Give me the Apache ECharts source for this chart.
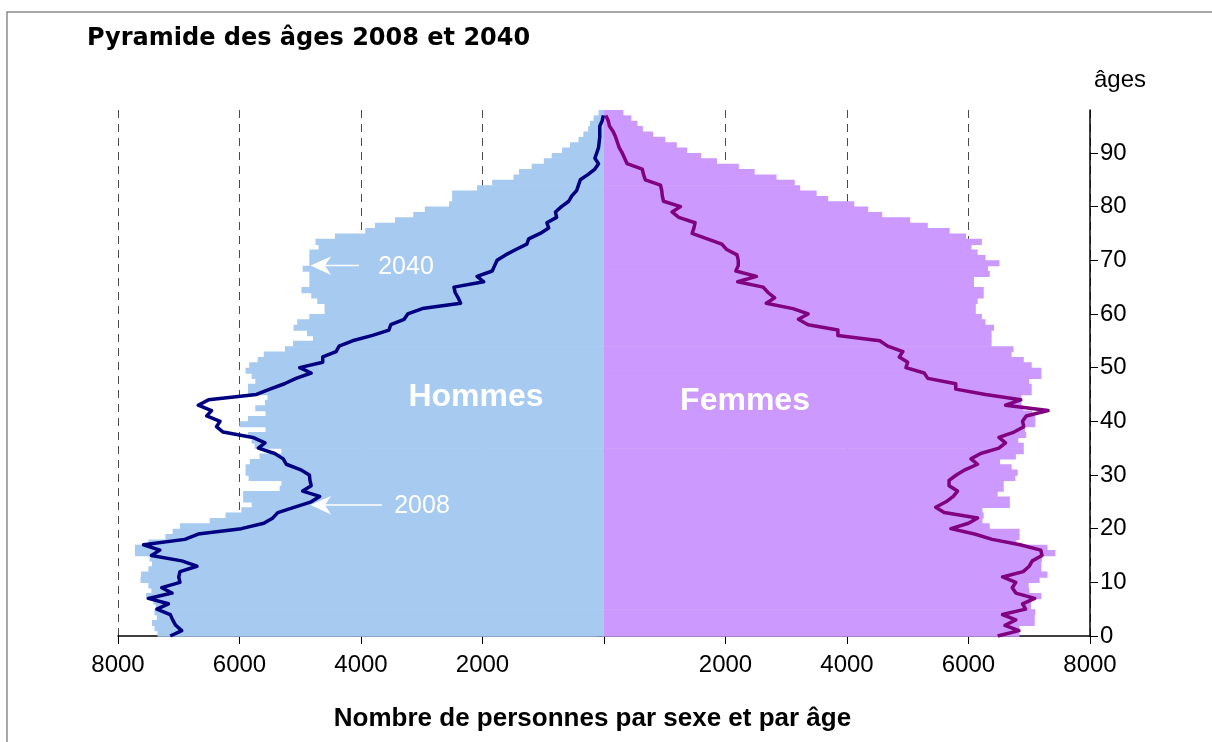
<!DOCTYPE html>
<html>
<head>
<meta charset="utf-8">
<script src="https://cdn.jsdelivr.net/npm/echarts@6/dist/echarts.min.js"></script>
<style>
html,body{margin:0;padding:0;background:#fff;}
#chart{width:1212px;height:742px;}
</style>
</head>
<body>
<div id="chart"></div>
<script>
// ----- Data (persons per single year of age, ages 0..97) -----
const ages = [];
for (let a = 0; a <= 97; a++) ages.push(a);

const ageTicks = [0, 10, 20, 30, 40, 50, 60, 70, 80, 90];

// Hommes 2040 (bars)
const men2040 = [
  7350, 7400, 7440, 7360, 7400, 7380, 7420, 7540, 7450, 7500,
  7630, 7620, 7500, 7440, 7480, 7720, 7720, 7500, 7220, 7100,
  6980, 6490, 6230, 5970, 5800, 5940, 5940, 5340, 5310, 5850,
  5900, 5900, 5830, 5670, 5310, 5750, 5800, 5860, 5570, 6000,
  5860, 5570, 5740, 5580, 5540, 5860, 5860, 5740, 5800, 5900,
  5840, 5700, 5600, 5250, 5120, 4790, 4890, 5110, 5050, 4850,
  4600, 4600, 4720, 4820, 4980, 4850, 4850, 4850, 4960, 4850,
  4850, 4850, 4700, 4750, 4430, 3930, 3770, 3440, 3140, 2950,
  2550, 2500, 2500, 2090, 1840, 1490, 1400, 1190, 990, 860,
  690, 560, 420, 340, 260, 230, 170, 90
];

// Femmes 2040 (bars)
const women2040 = [
  6840, 6840, 7090, 7090, 7100, 7030, 7030, 7200, 7000, 6990,
  7170, 7300, 7200, 7200, 7210, 7430, 7300, 6790, 6840, 6840,
  6350, 6230, 6250, 6230, 6680, 6680, 6480, 6580, 6580, 6770,
  6810, 6710, 6520, 6780, 6910, 6910, 6820, 6950, 6930, 7100,
  7100, 7050, 6900, 6870, 6870, 7040, 7040, 7000, 7200, 7200,
  7040, 6910, 6710, 6740, 6380, 6380, 6380, 6420, 6280, 6220,
  6120, 6120, 6150, 6250, 6250, 6090, 6090, 6350, 6320, 6510,
  6280, 6150, 6050, 6220, 5960, 5690, 5330, 5040, 4580, 4350,
  4120, 3690, 3500, 3230, 3140, 2840, 2480, 2220, 1860, 1600,
  1370, 1200, 1010, 810, 640, 550, 450, 320
];

// Hommes 2008 (line)
const men2008 = [
  7140, 6950, 7050, 7100, 7140, 7360, 7170, 7500, 7110, 7280,
  6980, 7000, 6980, 6700, 6950, 7450, 7310, 7580, 6900, 6680,
  5970, 5600, 5450, 5370, 5090, 4820, 4680, 4960, 4820, 4840,
  4850, 5000, 5230, 5280, 5420, 5690, 5580, 5780, 6270, 6380,
  6320, 6540, 6460, 6680, 6510, 5720, 5500, 5260, 5070, 4820,
  5010, 4630, 4630, 4410, 4360, 4140, 3810, 3540, 3510, 3290,
  3230, 2990, 2360, 2400, 2450, 2470, 1980, 2090, 1840, 1800,
  1760, 1620, 1450, 1270, 1240, 1050, 910, 940, 780, 800,
  700, 580, 530, 450, 420, 390, 260, 150, 90, 150,
  120, 90, 80, 70, 70, 70, 30, 10
];

// Femmes 2008 (line)
const women2008 = [
  6480, 6830, 6600, 6780, 6560, 6940, 6890, 7090, 6780, 6720,
  6780, 6560, 6900, 7000, 7050, 7210, 7190, 6850, 6390, 6100,
  5710, 6000, 6150, 5600, 5460, 5630, 5750, 5820, 5680, 5680,
  5800, 5950, 6150, 6040, 6200, 6500, 6610, 6500, 6750, 6910,
  6890, 6950, 7310, 6610, 6860, 6280, 5790, 5790, 5330, 5270,
  4970, 5000, 4860, 4920, 4670, 4540, 3850, 3850, 3360, 3200,
  3360, 3110, 2670, 2810, 2700, 2620, 2200, 2510, 2170, 2210,
  2210, 2190, 2020, 1940, 1700, 1450, 1480, 1500, 1230, 1120,
  1260, 980, 960, 950, 930, 680, 650, 630, 380, 340,
  300, 250, 220, 190, 150, 90, 70, 30
];

// ----- Chart -----
const chart = echarts.init(document.getElementById('chart'), null, {renderer: 'canvas'});
const FONT = '"Liberation Sans", Arial, sans-serif';
const MEN_BAR = '#A6CAF0';
const WOMEN_BAR = '#CC99FF';

// One horizontal bar per age: from 0 to value, spanning [age, age+1] on the age axis
function ageBar(color) {
  return function (params, api) {
    const age = api.value(0);
    const v = api.value(1);
    const p0 = api.coord([0, age]);
    const p1 = api.coord([v, age + 1]);
    return {
      type: 'rect',
      shape: {
        x: Math.min(p0[0], p1[0]),
        y: p1[1],
        width: Math.abs(p1[0] - p0[0]),
        height: (p0[1] - p1[1]) + 0.7
      },
      style: {fill: color}
    };
  };
}

const option = {
  backgroundColor: '#ffffff',
  animation: false,
  title: {
    text: 'Pyramide des âges 2008 et 2040',
    left: 87,
    top: 27,
    padding: 0,
    textStyle: {fontFamily: '"DejaVu Sans", sans-serif', fontWeight: 'bold', fontSize: 24, color: '#000'}
  },
  grid: {left: 118, right: 122, top: 110, bottom: 106, containLabel: false},
  xAxis: {
    type: 'value', min: -8000, max: 8000, interval: 2000,
    axisLine: {show: true, onZero: false, lineStyle: {color: '#000', width: 1.5}},
    axisTick: {show: true, length: 8, lineStyle: {color: '#000', width: 1}},
    axisLabel: {
      fontFamily: FONT, fontSize: 24, color: '#000', margin: 17,
      formatter: function (v) { return v === 0 ? '' : String(Math.abs(v)); }
    },
    splitLine: {show: true, lineStyle: {color: '#4a4a4a', width: 1, type: [8, 6]}},
    name: 'Nombre de personnes par sexe et par âge',
    nameLocation: 'middle',
    nameGap: 70,
    nameTextStyle: {fontFamily: FONT, fontWeight: 'bold', fontSize: 26, color: '#000', padding: [0, 23, 0, 0]}
  },
  yAxis: [
    {
      type: 'value', min: 0, max: 98, interval: 10, position: 'right',
      axisLine: {show: true, onZero: false, lineStyle: {color: '#000', width: 1.5}},
      axisTick: {show: true, inside: false, length: 8, customValues: ageTicks, lineStyle: {color: '#000'}},
      axisLabel: {show: true, customValues: ageTicks, fontFamily: FONT, fontSize: 24, color: '#000', margin: 10},
      splitLine: {show: false}
    },
    {
      type: 'value', min: 0, max: 98, interval: 10, position: 'right',
      axisLine: {show: false},
      axisTick: {show: true, inside: true, length: 8, customValues: ageTicks, lineStyle: {color: '#000'}},
      axisLabel: {show: false},
      splitLine: {show: false}
    }
  ],
  series: [
    {
      name: 'Hommes 2040', type: 'custom', xAxisIndex: 0, yAxisIndex: 0,
      data: men2040.map(function (v, i) { return [ages[i], -v]; }),
      encode: {y: 0, x: 1},
      renderItem: ageBar(MEN_BAR),
      silent: true, z: 2
    },
    {
      name: 'Femmes 2040', type: 'custom', xAxisIndex: 0, yAxisIndex: 0,
      data: women2040.map(function (v, i) { return [ages[i], v]; }),
      encode: {y: 0, x: 1},
      renderItem: ageBar(WOMEN_BAR),
      silent: true, z: 2
    },
    {
      name: 'Hommes 2008', type: 'line', xAxisIndex: 0, yAxisIndex: 0,
      data: men2008.map(function (v, i) { return [-v, ages[i]]; }),
      showSymbol: false, symbol: 'none',
      lineStyle: {color: '#000080', width: 3.5, join: 'round'},
      silent: true, z: 5
    },
    {
      name: 'Femmes 2008', type: 'line', xAxisIndex: 0, yAxisIndex: 0,
      data: women2008.map(function (v, i) { return [v, ages[i]]; }),
      showSymbol: false, symbol: 'none',
      lineStyle: {color: '#800080', width: 3.5, join: 'round'},
      silent: true, z: 5
    }
  ],
  graphic: [
    {type: 'rect', z: -10, silent: true,
     shape: {x: 7, y: 12, width: 1400, height: 900},
     style: {fill: null, stroke: '#8a8a8a', lineWidth: 1.5}},
    {type: 'text', z: 100, x: 1120, y: 80,
     style: {text: 'âges', fontFamily: FONT, fontSize: 24, fill: '#000', align: 'center', verticalAlign: 'middle'}},
    {type: 'text', z: 100, x: 476, y: 397,
     style: {text: 'Hommes', fontFamily: FONT, fontWeight: 'bold', fontSize: 32, fill: '#fff', align: 'center', verticalAlign: 'middle'}},
    {type: 'text', z: 100, x: 745, y: 401,
     style: {text: 'Femmes', fontFamily: FONT, fontWeight: 'bold', fontSize: 32, fill: '#fff', align: 'center', verticalAlign: 'middle'}},
    {type: 'text', z: 100, x: 406, y: 267,
     style: {text: '2040', fontFamily: FONT, fontSize: 25, fill: '#fff', align: 'center', verticalAlign: 'middle'}},
    {type: 'text', z: 100, x: 422, y: 506,
     style: {text: '2008', fontFamily: FONT, fontSize: 25, fill: '#fff', align: 'center', verticalAlign: 'middle'}},
    {type: 'line', z: 100, shape: {x1: 359, y1: 265.5, x2: 320, y2: 265.5}, style: {stroke: '#fff', lineWidth: 1.5}},
    {type: 'polygon', z: 100, shape: {points: [[310.5, 265.5], [331, 256.5], [325, 265.5], [331, 275]]}, style: {fill: '#fff'}},
    {type: 'line', z: 100, shape: {x1: 382, y1: 505, x2: 320, y2: 505}, style: {stroke: '#fff', lineWidth: 1.5}},
    {type: 'polygon', z: 100, shape: {points: [[310.5, 505], [331, 496], [325, 505], [331, 514.5]]}, style: {fill: '#fff'}}
  ]
};
chart.setOption(option);
</script>
</body>
</html>
